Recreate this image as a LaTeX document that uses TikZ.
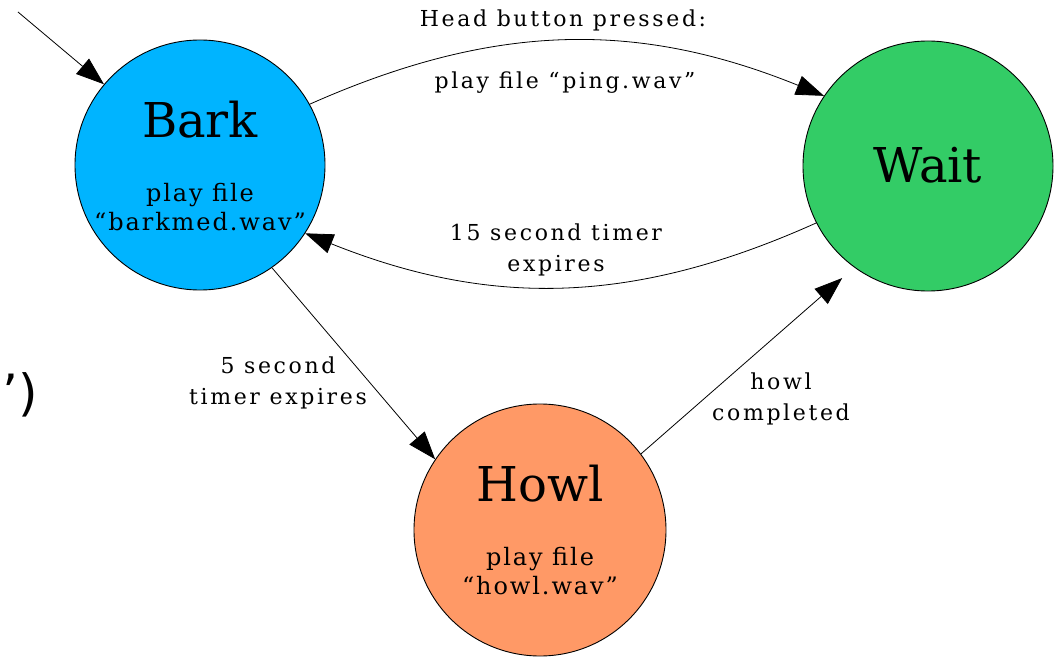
\documentclass[tikz,border=0pt]{standalone}
\usepackage{fontspec}
\setmainfont{DejaVu Serif}
\newfontfamily\symfont{DejaVu Sans}
\newfontfamily\lblfont[LetterSpace=12]{DejaVu Serif}
\newfontfamily\subfont[LetterSpace=8]{DejaVu Serif}
\usetikzlibrary{arrows.meta}
\definecolor{barkc}{RGB}{0,180,255}
\definecolor{waitc}{RGB}{51,204,102}
\definecolor{howlc}{RGB}{255,153,102}
\tikzset{
  state/.style={circle,draw=black,line width=0.9pt,minimum size=250pt,inner sep=0pt},
  title/.style={font=\fontsize{48}{52}\selectfont},
  sub/.style={font=\subfont\fontsize{24}{29}\selectfont,align=center},
  elabel/.style={font=\lblfont\fontsize{22}{31}\selectfont,align=center,inner sep=0pt},
  edge/.style={line width=0.8pt,-{Triangle[length=28pt,width=20pt]}},
}
\begin{document}
\begin{tikzpicture}[x=1pt,y=-1pt]
\useasboundingbox (0,0) rectangle (1058,658);
\node[state,fill=barkc] (bark) at (200,165) {};
\node[state,fill=waitc] (wait) at (928,166) {};
\node[state,fill=howlc,minimum size=252pt] (howl) at (540,530) {};
\node[title] (barkt) at (200,120) {Bark};
\node[sub] (barks) at (200,207) {play file\\“barkmed.wav”};
\node[title] (waitt) at (928,165) {Wait};
\node[title] (howlt) at (540,484) {Howl};
\node[sub] (howls) at (540,571) {play file\\“howl.wav”};
\coordinate (start) at (18,12);
\draw[edge] (start) -- (bark);
\draw[edge] (bark.29) to[bend left=23] (wait.146);
\draw[edge] (wait.207) to[bend left=23] (bark.-33);
\draw[edge] (bark.-55) -- (howl.146);
\draw[edge,shorten >=16pt] (howl.37) -- (wait.234);
\node[elabel] (l1) at (563,20) {Head button pressed:};
\node[elabel] (l2) at (565,83) {play file “ping.wav”};
\node[elabel] (l3) at (556,250) {15 second timer\\expires};
\node[elabel] (l4) at (278,383) {5 second\\timer expires};
\node[elabel] (l5) at (781,399) {howl\\completed};
\node[font=\symfont\fontsize{50}{50}\selectfont,inner sep=0pt] (frag) at (20,395) {’)};
\end{tikzpicture}
\end{document}
